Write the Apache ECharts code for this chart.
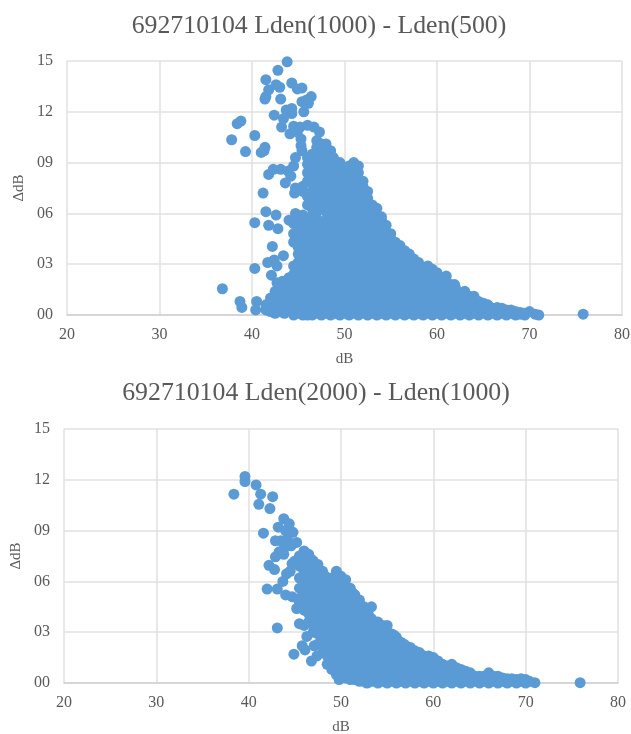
<!DOCTYPE html>
<html><head><meta charset="utf-8">
<style>html,body{margin:0;padding:0;background:#fff}#c{width:631px;height:734px}</style>
<script src="https://cdn.jsdelivr.net/npm/echarts@6/dist/echarts.min.js"></script>
</head><body><div id="c"></div>
<script>
const titles = ['692710104 Lden(1000) - Lden(500)', '692710104 Lden(2000) - Lden(1000)'];
const yTicks = ['00','03','06','09','12','15'];
const xName = 'dB', yName = '\u0394dB';

// [dB, delta] isolated points, chart 1
const looseTop = [[43.8,14.95],[42.8,14.45],[41.5,13.9],[41.8,13.3],[42.6,13.6],[43.0,13.45],[44.3,13.7],[44.9,13.35],[45.4,13.4],[41.4,12.75],[41.5,12.9],[43.1,12.75],[46.4,12.9],[45.9,12.7],[45.4,12.6],[46.1,12.5],[45.6,12.0],[44.3,12.2],[43.7,12.1],[44.3,11.9],[43.4,11.6],[42.4,11.8],[38.8,11.45],[38.4,11.3],[43.2,11.1],[44.5,11.15],[45.2,11.1],[46,11.2],[46.7,11.1],[47.3,10.8],[37.8,10.35],[40.3,10.6],[44.1,10.7],[44.9,10.8],[45.3,10.4],[39.3,9.65],[41.4,9.9],[41,9.6],[41.3,9.7],[45.3,10],[45.4,9.7],[44.7,9.3],[44.5,8.8],[41.8,8.3],[42.3,8.6],[43.1,8.6],[43.9,8.5],[44.2,8.2],[43.6,7.8],[41.2,7.2],[44.7,7.5],[44.6,7.2],[41.5,6.1],[42.6,5.9],[44.7,6],[44,5.6],[40.3,5.45],[41.8,5.3],[42.8,5.1],[42.2,4.05],[43.4,3.5],[41.7,3.1],[42.4,3.25],[42.7,2.9],[40.3,2.75],[42.1,2.35],[36.8,1.55],[38.7,0.8],[38.9,0.45],[40.5,0.8],[40.4,0.3],[42.7,1.9],[43.3,2.0],[61,2.3],[61.9,1.8],[75.8,0.05],[71,0.0],[70.6,0.05],[70,0.2]];
// dense cloud, chart 1: one dB level, then the deltas seen at that level
const levelsTop = [41.5,42,42.5,43,43.5,44,44.5,45,45.5,46,46.5,47,47.5,48,48.5,49,49.5,50,50.5,51,51.5,52,52.5,53,53.5,54,54.5,55,55.5,56,56.5,57,57.5,58,58.5,59,59.5,60,60.5,61,61.5,62,62.5,63,63.5,64,64.5,65,65.5,66,66.5,67,67.5,68,68.5,69,69.5];
const deltasTop = [
[0.3,0.6],
[0.2,0.6,1.0],
[0.1,0.5,1.0,1.4],
[0.2,0.7,1.2,1.7],
[0.1,0.5,1.0,1.4,1.9],
[0.3,0.7,1.2,1.7,2.2],
[0.0,0.5,0.9,1.4,1.9,2.4,2.9,4.3,4.8,5.4],
[0.1,0.6,1.1,1.5,2.1,2.6,3.1,3.6,4.0,4.5,5.0,5.5],
[0.0,0.4,0.9,1.4,1.9,2.3,2.8,3.3,3.8,4.3,4.8,5.3,5.9,7.3,7.6],
[0.0,0.6,1.1,1.6,2.1,2.6,3.1,3.6,4.1,4.6,5.1,5.6,6.5,7.0,7.9,8.4,8.9,9.3],
[0.0,0.4,0.9,1.4,1.8,2.3,2.8,3.3,3.8,4.4,4.9,5.4,5.9,6.3,6.8,7.3,7.8,8.2,8.7,9.2,9.5],
[0.1,0.6,1.1,1.6,2.0,2.5,3.0,3.5,4.1,4.6,5.1,5.7,6.1,6.6,7.0,7.5,8.0,8.5,9.0,9.4,9.9,10.3],
[0.0,0.3,0.8,1.3,1.8,2.3,2.8,3.3,3.8,4.3,4.8,5.3,6.3,6.9,7.4,7.9,8.3,8.8,9.3,9.7,10.1],
[0.1,0.6,1.1,1.5,2.0,2.5,3.0,3.5,4.0,4.5,5.1,5.6,6.1,6.6,7.1,7.6,8.1,8.6,9.1,9.5,9.9,10.1],
[0.0,0.4,0.9,1.4,1.9,2.4,2.9,3.4,3.9,4.3,4.8,5.3,5.8,6.4,6.9,7.4,7.8,8.3,8.8,9.3,9.7],
[0.1,0.6,1.1,1.6,2.1,2.6,3.1,3.6,4.1,4.6,5.1,5.6,6.1,6.6,7.1,7.6,8.1,8.5,8.8],
[0.0,0.3,0.8,1.3,1.8,2.3,2.8,3.3,3.8,4.4,4.9,5.4,5.9,6.4,6.9,7.4,7.9,8.4,9.0],
[0.1,0.6,1.1,1.6,2.1,2.6,3.1,3.6,4.1,4.6,5.1,5.6,6.1,6.6,7.1,7.6,8.1,8.6],
[0.0,0.4,0.9,1.4,1.9,2.4,2.9,3.4,3.9,4.4,4.9,5.4,5.9,6.4,6.9,7.4,7.9,8.4,8.8],
[0.1,0.6,1.1,1.6,2.1,2.6,3.1,3.6,4.1,4.6,5.1,5.6,6.1,6.6,7.1,7.6,8.1,8.5,9.0],
[0.0,0.4,0.9,1.4,1.9,2.4,2.9,3.4,3.9,4.4,4.9,5.4,5.9,6.4,6.9,7.4,7.9,8.4,8.8],
[0.1,0.6,1.1,1.6,2.1,2.6,3.1,3.6,4.1,4.6,5.1,5.6,6.1,6.6,7.1,7.6,7.9],
[0.0,0.4,0.9,1.4,1.9,2.4,2.9,3.4,3.9,4.4,4.9,5.4,5.9,6.4,6.9,7.3],
[0.1,0.6,1.1,1.6,2.1,2.6,3.1,3.6,4.1,4.6,5.1,5.6,6.1,6.5],
[0.0,0.4,0.9,1.4,1.9,2.4,2.9,3.4,3.9,4.4,4.9,5.4,5.9,6.3],
[0.1,0.6,1.1,1.6,2.1,2.6,3.1,3.6,4.1,4.6,5.1,5.6,5.8],
[0.0,0.4,0.9,1.4,1.9,2.4,2.9,3.4,3.9,4.4,4.9,5.3],
[0.1,0.6,1.1,1.6,2.1,2.6,3.1,3.6,4.1,4.5,4.8],
[0.0,0.4,0.9,1.4,1.9,2.4,2.9,3.4,3.9,4.3],
[0.1,0.6,1.1,1.6,2.1,2.6,3.1,3.6,4.1],
[0.0,0.4,0.9,1.4,1.9,2.4,2.9,3.4,3.8],
[0.1,0.6,1.1,1.6,2.1,2.6,3.1,3.6],
[0.0,0.4,0.9,1.4,1.9,2.4,2.9,3.3],
[0.1,0.6,1.1,1.6,2.1,2.6,3.1],
[0.0,0.4,0.9,1.4,1.9,2.4,2.8],
[0.1,0.6,1.1,1.6,2.1,2.6,2.9],
[0.0,0.4,0.9,1.4,1.9,2.3,2.7],
[0.1,0.6,1.1,1.6,2.1,2.5],
[0.0,0.4,0.9,1.4,1.8,2.2],
[0.1,0.6,1.1,1.5,2.0],
[0.0,0.4,0.9,1.4,1.8],
[0.1,0.6,1.1,1.6],
[0.0,0.4,0.9,1.3],
[0.1,0.6,1.1,1.4],
[0.0,0.4,0.8,1.1],
[0.1,0.5,0.9,1.1],
[0.0,0.4,0.8],
[0.1,0.5,0.7],
[0.0,0.3,0.6],
[0.1,0.4],
[0.0,0.3,0.45],
[0.1,0.4],
[0.0,0.3],
[0.1,0.3],
[0.0,0.2],
[0.05,0.15],
[0.0,0.1]
];
// further readings between those levels, chart 1
const levelsTopMid = [45.3,45.8,46.3,46.8,47.3,47.8,48.3,48.8,49.3,49.8,50.3,50.8,51.3,51.8,52.3,52.8,53.3,53.8,54.3,54.8,55.3,55.8,56.3,56.8,57.3,57.8,58.3,58.8,59.3,59.8,60.3,60.8,61.3,61.8,62.3,62.8,63.3,63.8,64.3];
const deltasTopMid = [
[0.3,0.8,1.3,1.8,2.4,2.9,3.4,3.9,4.4,4.8],
[0.4,0.9,1.3,1.8,2.3,2.9,3.4,3.8,4.4,4.9,5.3],
[0.3,0.8,1.4,1.9,2.4,2.8,3.3,3.9,4.3,4.8,5.4],
[0.4,0.9,1.3,1.8,2.3,2.8,3.4,3.8,4.4,4.9,5.3,6.4,6.9,7.4,7.8,8.3,8.9],
[0.3,0.8,1.4,1.9,2.4,2.9,3.3,3.9,4.4,4.8,6.9,7.3,7.8,8.4,8.8,9.3],
[0.4,0.9,1.3,1.8,2.3,2.8,3.4,3.8,4.3,4.9,5.3,6.4,6.9,7.4,7.9,8.3,8.8,9.4],
[0.3,0.8,1.4,1.9,2.4,2.9,3.3,3.9,4.4,4.8,5.4,5.9,6.3,6.8,7.4,7.8,8.4,8.9,9.3],
[0.4,0.9,1.3,1.8,2.3,2.8,3.4,3.8,4.3,4.9,5.3,5.8,6.4,6.9,7.3,7.9,8.3,8.8,9.3],
[0.3,0.8,1.4,1.9,2.4,2.9,3.3,3.9,4.4,4.8,5.4,5.9,6.3,6.8,7.4,7.8,8.4],
[0.4,0.9,1.3,1.8,2.3,2.8,3.4,3.8,4.3,4.9,5.3,5.8,6.4,6.9,7.3,7.9,8.3],
[0.3,0.8,1.4,1.9,2.4,2.9,3.3,3.9,4.4,4.8,5.4,5.9,6.3,6.8,7.4,7.8,8.3],
[0.4,0.9,1.3,1.8,2.3,2.8,3.4,3.8,4.3,4.9,5.3,5.8,6.4,6.9,7.3,7.9,8.4],
[0.3,0.8,1.4,1.9,2.4,2.9,3.3,3.9,4.4,4.8,5.4,5.9,6.3,6.8,7.4,7.8,8.3],
[0.4,0.9,1.3,1.8,2.3,2.8,3.4,3.8,4.3,4.9,5.3,5.8,6.4,6.9,7.3],
[0.3,0.8,1.4,1.9,2.4,2.9,3.3,3.9,4.4,4.8,5.4,5.9,6.3,6.8],
[0.4,0.9,1.3,1.8,2.3,2.8,3.4,3.8,4.3,4.9,5.3,5.8,6.3],
[0.3,0.8,1.4,1.9,2.4,2.9,3.3,3.9,4.4,4.8,5.4,5.8],
[0.4,0.9,1.3,1.8,2.3,2.8,3.4,3.8,4.3,4.9,5.3,5.7],
[0.3,0.8,1.4,1.9,2.4,2.9,3.3,3.9,4.4,4.8,5.3],
[0.4,0.9,1.3,1.8,2.3,2.8,3.4,3.8,4.3],
[0.3,0.8,1.4,1.9,2.4,2.9,3.3,3.9,4.3],
[0.4,0.9,1.3,1.8,2.3,2.8,3.4,3.8],
[0.3,0.8,1.4,1.9,2.4,2.9,3.3],
[0.4,0.9,1.3,1.8,2.3,2.8,3.3],
[0.3,0.8,1.4,1.9,2.4,2.8],
[0.4,0.9,1.3,1.8,2.3,2.8],
[0.3,0.8,1.4,1.9,2.3],
[0.4,0.9,1.3,1.8,2.3],
[0.3,0.8,1.4,1.9,2.3],
[0.4,0.9,1.3,1.8],
[0.3,0.8,1.4,1.8],
[0.4,0.9,1.3],
[0.3,0.8,1.3],
[0.4,0.9,1.3],
[0.3,0.8],
[0.4,0.8],
[0.3,0.8],
[0.4],
[0.3]
];

// isolated points, chart 2
const looseBottom = [[39.6,12.2],[39.6,11.9],[40.8,11.7],[38.4,11.15],[41.3,11.15],[42.6,11],[41.1,10.55],[42.3,10.3],[41.6,8.85],[43.8,9.7],[44.4,9.4],[43.2,9.2],[44.8,8.9],[42.9,8.4],[45.2,8.3],[43.5,8.4],[44.2,8.5],[44,9.0],[43.9,8.0],[44.6,8.1],[43.3,7.75],[42.9,7.45],[43.8,7.6],[42.2,6.95],[42.8,6.7],[43.7,6],[44.1,6.45],[44.7,7.05],[44.5,6.6],[45,7.2],[42,5.55],[43.1,5.55],[44,5.2],[44.7,5.1],[45.4,4.9],[45.2,4.4],[43.1,3.25],[45.5,3.5],[46,3.4],[46.3,2.75],[45.8,2.2],[46.1,1.95],[44.9,1.7],[46.8,1.3],[47.1,2.2],[47.4,1.6],[49.8,0.2],[52.8,0],[53.3,4.5],[75.9,0.02],[71,0.02],[70.4,0.1]];
const levelsBottom = [45.5,46,46.5,47,47.5,48,48.5,49,49.5,50,50.5,51,51.5,52,52.5,53,53.5,54,54.5,55,55.5,56,56.5,57,57.5,58,58.5,59,59.5,60,60.5,61,61.5,62,62.5,63,63.5,64,64.5,65,65.5,66,66.5,67,67.5,68,68.5,69,69.5,70];
const deltasBottom = [
[4.5,5.0,5.6,6.2,6.9,7.5],
[4.3,4.8,5.4,6.0,6.6,7.2,7.8],
[3.6,4.1,4.7,5.2,5.8,6.4,7.0,7.6],
[3.0,3.4,3.9,4.4,5.0,5.5,6.1,6.7,7.2],
[2.3,2.9,3.4,3.9,4.5,5.0,5.6,6.2,6.8,7.0],
[1.8,2.3,2.8,3.4,3.9,4.4,5.0,5.5,6.1,6.6],
[1.1,1.6,2.1,2.6,3.1,3.6,4.2,4.7,5.2,5.7,6.2],
[0.8,1.3,1.8,2.3,2.8,3.3,3.8,4.3,4.8,5.3,5.8,6.2],
[0.5,1.0,1.5,2.0,2.5,3.0,3.6,4.1,4.6,5.1,5.6,6.1,6.6],
[0.4,0.8,1.3,1.8,2.3,2.8,3.3,3.8,4.3,4.8,5.3,5.8,6.3],
[0.3,0.7,1.2,1.7,2.2,2.7,3.2,3.7,4.2,4.7,5.2,5.7,6.1],
[0.2,0.6,1.1,1.6,2.1,2.6,3.1,3.6,4.1,4.6,5.1,5.6],
[0.2,0.7,1.2,1.7,2.2,2.7,3.2,3.7,4.2,4.7,5.2],
[0.1,0.5,1.0,1.5,2.0,2.5,3.0,3.5,4.0,4.5,4.9],
[0.1,0.6,1.1,1.6,2.1,2.6,3.1,3.6,4.1,4.5],
[0.05,0.5,1.0,1.5,2.0,2.5,3.0,3.5,4.0],
[0.1,0.6,1.1,1.6,2.1,2.6,3.1,3.6],
[0.0,0.4,0.9,1.4,1.9,2.4,2.9,3.4,3.6],
[0.1,0.6,1.1,1.6,2.1,2.6,3.1,3.4],
[0.0,0.4,0.9,1.4,1.9,2.4,2.9,3.4],
[0.1,0.6,1.1,1.6,2.1,2.6,2.9],
[0.0,0.4,0.9,1.4,1.9,2.4,2.7],
[0.1,0.6,1.1,1.6,2.0,2.4],
[0.0,0.4,0.9,1.4,1.9,2.2],
[0.1,0.6,1.1,1.6,2.1],
[0.0,0.4,0.9,1.4,1.9],
[0.1,0.6,1.1,1.5,1.8],
[0.0,0.4,0.9,1.3,1.6],
[0.1,0.6,1.1,1.6],
[0.0,0.4,0.9,1.2,1.5],
[0.1,0.6,1.0,1.3],
[0.0,0.4,0.8,1.1],
[0.1,0.5,0.9,1.0],
[0.0,0.4,0.8,1.1],
[0.1,0.5,0.9],
[0.0,0.4,0.8],
[0.1,0.5,0.7],
[0.0,0.3,0.6],
[0.1,0.4],
[0.0,0.3,0.4],
[0.1,0.4],
[0.0,0.3,0.6],
[0.1,0.4],
[0.0,0.25,0.4],
[0.1,0.3],
[0.0,0.25],
[0.1,0.25],
[0.0,0.2],
[0.1,0.25],
[0.0,0.2]
];
// further readings between those levels, chart 2
const levelsBottomMid = [46.3,46.8,47.3,47.8,48.3,48.8,49.3,49.8,50.3,50.8,51.3,51.8,52.3,52.8,53.3,53.8,54.3,54.8,55.3,55.8,56.3,56.8,57.3,57.8,58.3,58.8,59.3,59.8,60.3,60.8,61.3,61.8,62.3,62.8];
const deltasBottomMid = [
[4.6,5.1,5.7,6.3,6.9,7.4],
[4.3,4.8,5.4,5.9,6.4,6.9,7.3],
[3.4,3.8,4.4,4.8,5.3,5.9,6.4,6.8],
[2.9,3.3,3.9,4.4,4.8,5.4,5.8,6.3],
[1.9,2.4,2.8,3.3,3.9,4.3,4.8,5.4,5.9,6.3],
[1.4,1.8,2.3,2.9,3.4,3.8,4.4,4.9,5.3,5.8],
[1.1,1.6,2.1,2.6,3.1,3.6,4.1,4.6,5.1,5.6],
[0.7,1.1,1.6,2.1,2.6,3.1,3.6,4.1,4.6,5.1,5.6,6.1],
[0.6,1.1,1.6,2.1,2.6,3.1,3.6,4.1,4.6,5.1,5.6],
[0.5,0.9,1.4,1.9,2.4,2.9,3.4,3.9,4.4,4.9,5.3],
[0.4,0.9,1.4,1.9,2.4,2.9,3.4,3.9,4.4,4.9,5.3],
[0.4,0.8,1.3,1.8,2.3,2.8,3.3,3.8,4.3,4.8],
[0.3,0.8,1.3,1.8,2.3,2.8,3.3,3.8,4.3],
[0.3,0.8,1.3,1.8,2.3,2.8,3.3,3.8],
[0.3,0.8,1.3,1.8,2.3,2.8,3.3,3.8],
[0.3,0.8,1.3,1.8,2.3,2.8,3.3],
[0.3,0.8,1.3,1.8,2.3,2.8,3.3],
[0.3,0.8,1.3,1.8,2.3,2.8,3.3],
[0.3,0.8,1.3,1.8,2.3,2.8],
[0.3,0.8,1.3,1.8,2.3,2.8],
[0.3,0.8,1.3,1.8,2.3],
[0.3,0.8,1.3,1.8,2.3],
[0.3,0.8,1.3,1.8],
[0.3,0.8,1.3,1.8],
[0.3,0.8,1.3],
[0.3,0.8,1.3],
[0.3,0.8,1.3],
[0.3,0.8,1.3],
[0.3,0.8],
[0.3,0.8],
[0.3,0.8],
[0.3,0.8],
[0.3,0.7],
[0.3,0.7]
];

function expand(levels, deltas, loose, levelsMid, deltasMid) {
  const pts = loose.slice();
  levels.forEach((x, i) => deltas[i].forEach(y => pts.push([x, y])));
  levelsMid.forEach((x, i) => deltasMid[i].forEach(y => pts.push([x, y])));
  return pts;
}
const serif = '"Liberation Serif","Times New Roman",serif';
const grey = '#595959';
const grids = [
  {left: 67, top: 61, width: 555, height: 254, outerBoundsMode: 'none'},
  {left: 64, top: 429, width: 554, height: 254, outerBoundsMode: 'none'}
];
const titleY = [8, 375];
const titleX = [314, 311];
function xAxis(i) {
  return {gridIndex: i, type: 'value', min: 20, max: 80, interval: 10,
    name: xName, nameLocation: 'middle', nameGap: 37,
    nameTextStyle: {fontFamily: serif, fontSize: 15, color: grey},
    axisLine: {show: true, lineStyle: {color: '#D0D0D0', width: 1.5}}, axisTick: {show: false},
    axisLabel: {fontFamily: serif, fontSize: 16, color: grey, margin: 12},
    splitLine: {show: true, lineStyle: {color: '#E0E0E0', width: 1.5}}};
}
function yAxis(i) {
  return {gridIndex: i, type: 'value', min: 0, max: 15, interval: 3,
    name: yName, nameLocation: 'middle', nameGap: 37, nameRotate: 90,
    nameTextStyle: {fontFamily: serif, fontSize: 15, color: grey},
    axisLine: {show: false}, axisTick: {show: false},
    axisLabel: {fontFamily: serif, fontSize: 16, color: grey, margin: 14,
      formatter: v => yTicks[v / 3]},
    splitLine: {show: true, lineStyle: {color: '#E0E0E0', width: 1.5}}};
}
function series(i, data) {
  return {type: 'scatter', xAxisIndex: i, yAxisIndex: i, data, symbol: 'circle', symbolSize: 11,
    clip: false, silent: true, animation: false, large: false, progressive: 0,
    itemStyle: {color: '#5B9BD5', opacity: 1}};
}
const chart = echarts.init(document.getElementById('c'), null, {renderer: 'canvas'});
chart.setOption({
  animation: false,
  backgroundColor: '#fff',
  title: titles.map((t, i) => ({text: t, left: titleX[i], top: titleY[i], textAlign: 'center',
    textStyle: {fontFamily: serif, fontWeight: 'normal', fontSize: 25.8, color: grey}})),
  grid: grids,
  xAxis: [xAxis(0), xAxis(1)],
  yAxis: [yAxis(0), yAxis(1)],
  series: [
    series(0, expand(levelsTop, deltasTop, looseTop, levelsTopMid, deltasTopMid)),
    series(1, expand(levelsBottom, deltasBottom, looseBottom, levelsBottomMid, deltasBottomMid))
  ]
});
</script></body></html>
